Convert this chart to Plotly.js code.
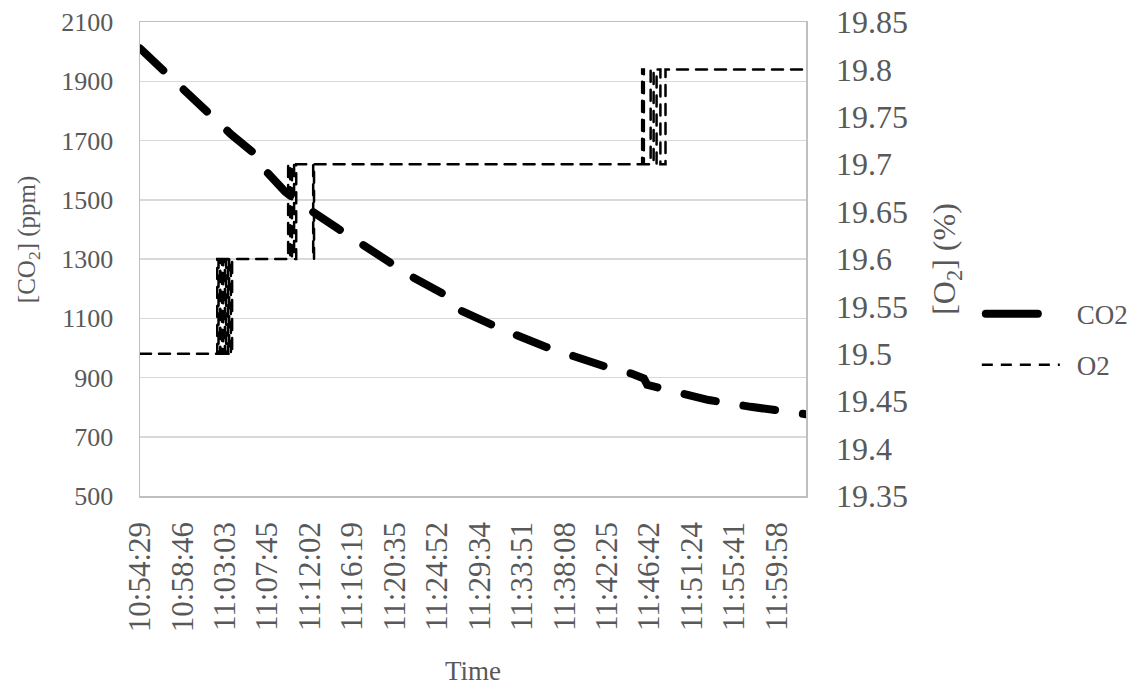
<!DOCTYPE html>
<html>
<head>
<meta charset="utf-8">
<script src="https://cdn.plot.ly/plotly-3.0.1.min.js"></script>
<style>
  html, body { margin: 0; padding: 0; background: #fff; }
  #chart { width: 1133px; height: 686px; }
  .subplot.xy .js-line { stroke-linecap: round; }
  #chart text { font-family: 'Liberation Serif', 'Times New Roman', serif !important; }
</style>
</head>
<body>
<div id="chart"></div>
<script>
// Category tick labels (Excel category axis, one label every N samples)
const tickLabels = ['10:54:29','10:58:46','11:03:03','11:07:45','11:12:02','11:16:19','11:20:35','11:24:52',
                    '11:29:34','11:33:51','11:38:08','11:42:25','11:46:42','11:51:24','11:55:41','11:59:58'];

// CO2 series: position along the category axis (in label intervals) and ppm value
const co2Pos = [0, 0.71, 1.10, 1.77, 2.16, 2.79, 2.87, 3.42, 3.77, 4.64, 5.11, 5.86, 6.33, 7.12, 7.35,
                8.10, 8.57, 9.55, 10.10, 11.08, 11.56, 11.87, 11.95, 12.85, 13.40, 14.39, 14.90, 15.69];
const co2Ppm = [2011, 1915, 1865, 1780, 1719, 1645, 1612, 1527, 1488, 1405, 1364, 1291, 1246, 1184, 1139,
                1088, 1060, 1004, 976, 931, 914, 897, 875, 841, 824, 801, 790, 776];

// O2 series: sample positions where the reading changes, and the reading (%)
const o2Pos = [0, 1.82, 1.85, 1.89, 1.93, 1.96, 2.00, 2.03, 2.07, 2.10, 2.14, 2.17,
               3.49, 3.54, 3.58, 3.63, 3.68, 4.08, 4.10,
               11.83, 11.87, 12.03, 12.10, 12.17, 12.26, 12.38, 15.69];
const o2Pct = [19.5, 19.6, 19.5, 19.6, 19.5, 19.6, 19.5, 19.6, 19.5, 19.6, 19.5, 19.6,
               19.7, 19.6, 19.7, 19.6, 19.7, 19.6, 19.7,
               19.8, 19.7, 19.8, 19.7, 19.8, 19.7, 19.8, 19.8];

const leftTicks = [500, 700, 900, 1100, 1300, 1500, 1700, 1900, 2100];
const rightTicks = [19.35, 19.4, 19.45, 19.5, 19.55, 19.6, 19.65, 19.7, 19.75, 19.8, 19.85];
const rightTickText = ['19.35','19.4','19.45','19.5','19.55','19.6','19.65','19.7','19.75','19.8','19.85'];

const serif = 'Liberation Serif';
const grey = '#595959';

const traces = [
  {
    x: co2Pos, y: co2Ppm, name: 'CO2', type: 'scatter', mode: 'lines',
    line: { color: '#000', width: 8, dash: '32px,28px' },
    xaxis: 'x', yaxis: 'y', legendgroup: 'a', hoverinfo: 'skip'
  },
  {
    x: o2Pos, y: o2Pct, name: 'O2', type: 'scatter', mode: 'lines',
    line: { color: '#000', width: 2.5, dash: '11px,8px', shape: 'hv' },
    xaxis: 'x', yaxis: 'y2', legendgroup: 'b', hoverinfo: 'skip'
  }
];

const layout = {
  width: 1133, height: 686,
  margin: { l: 140, r: 327, t: 22, b: 190, autoexpand: false },
  paper_bgcolor: '#fff', plot_bgcolor: '#fff',
  font: { family: serif, color: grey },
  xaxis: {
    range: [0, 15.69],
    tickvals: tickLabels.map((_, i) => i),
    ticktext: tickLabels,
    tickangle: -90,
    tickfont: { family: serif, size: 31, color: grey },
    ticks: '', showgrid: false, zeroline: false,
    showline: true, linecolor: '#bfbfbf', linewidth: 1.5, mirror: true,
    ticklabelstandoff: 12,
    title: { text: 'Time', font: { family: serif, size: 27, color: grey }, standoff: 31 }
  },
  yaxis: {
    range: [500, 2100],
    tickvals: leftTicks,
    tickfont: { family: serif, size: 26, color: grey },
    ticks: '', showgrid: true, gridcolor: '#d9d9d9', gridwidth: 1.5, zeroline: false,
    showline: true, linecolor: '#bfbfbf', linewidth: 1.5, mirror: true,
    ticklabelstandoff: 20
  },
  yaxis2: {
    range: [19.35, 19.85], overlaying: 'y', side: 'right',
    tickvals: rightTicks, ticktext: rightTickText,
    tickfont: { family: serif, size: 32, color: grey },
    ticks: '', showgrid: false, zeroline: false, showline: false,
    ticklabelstandoff: 29,
    title: { text: '[O<sub>2</sub>] (%)', font: { family: serif, size: 32, color: grey }, standoff: 25 }
  },
  annotations: [
    {
      text: '[CO<sub>2</sub>] (ppm)', textangle: -90, showarrow: false,
      xref: 'paper', yref: 'paper', x: -0.168, y: 0.54, xanchor: 'center', yanchor: 'middle',
      font: { family: serif, size: 25, color: grey }
    }
  ],
  showlegend: true,
  legend: {
    x: 1.2565, y: 0.33, xanchor: 'left', yanchor: 'middle',
    font: { family: serif, size: 27, color: grey },
    tracegroupgap: 13, itemwidth: 90, bgcolor: 'rgba(0,0,0,0)'
  }
};

Plotly.newPlot('chart', traces, layout, { staticPlot: true, displayModeBar: false }).then(function (gd) {
  const lines = gd.querySelectorAll('.legend .traces .js-line');
  const lens = [52, 78];
  const shift = [4, 0];
  lines.forEach(function (ln, i) {
    const d = ln.getAttribute('d') || '';
    const m = d.match(/^M([-\d.]+),([-\d.]+)h([\d.]+)/);
    if (m) ln.setAttribute('d', 'M' + (parseFloat(m[1]) + shift[i]) + ',' + m[2] + 'h' + lens[i]);
    if (i === 0) { ln.style.strokeDasharray = 'none'; ln.style.strokeLinecap = 'round'; }
  });
});
</script>
</body>
</html>
